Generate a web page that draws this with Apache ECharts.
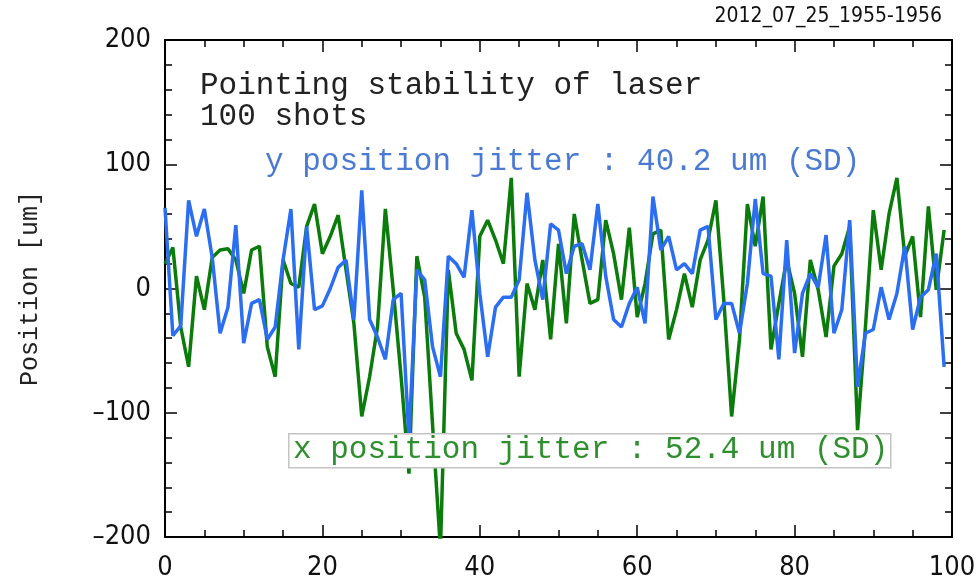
<!DOCTYPE html>
<html><head><meta charset="utf-8">
<script src="https://cdn.jsdelivr.net/npm/echarts@6/dist/echarts.min.js"></script>
<style>html,body{margin:0;padding:0;background:#fff}#c{width:979px;height:585px}</style>
</head><body><div id="c"></div>
<script>
// Shot-by-shot positions (um), shots 0..99
const xJitter = [20,33,-31,-63,10,-17,25,31,32,23,-4,31,34,-47,-71,23,4,1,50,68,
  28,42,59,15,-28,-103,-71,-31,64,-1,-71,-149,26,-7,-110,-210,15,-36,-49,-74,
  42,55,39,20,89,-71,4,-17,23,-41,36,-28,60,23,-12,-9,55,28,-9,49,
  -23,4,44,47,-41,-17,12,-15,23,39,71,-9,-103,-41,68,34,74,-49,-12,23,
  -4,-55,23,-1,-39,18,28,50,-114,-31,63,15,60,89,26,42,-23,66,-1,47];
const yJitter = [65,-38,-30,71,42,64,25,-36,-15,51,-44,-12,-9,-41,-31,23,64,-49,50,-17,
  -14,0,17,23,-25,79,-25,-39,-57,-9,-4,-120,15,7,-47,-71,26,20,9,63,
  -4,-55,-15,-7,-7,7,77,23,-9,52,47,12,34,36,15,68,10,-25,-31,-12,
  1,-28,74,31,42,15,20,12,47,50,-25,-12,-12,-36,4,72,12,10,-57,39,
  -52,-4,12,1,43,-36,-17,55,-79,-36,-33,1,-25,-4,34,-33,-7,-1,28,-63];
const xTickValues = [0,20,40,60,80,100];
const yTickValues = [-200,-100,0,100,200];
const titleLines = ['Pointing stability of laser','100 shots'];
const yLabel = 'y position jitter : 40.2 um (SD)';
const xLabel = 'x position jitter : 52.4 um (SD)';
const stamp = '2012_07_25_1955-1956';
const yAxisName = 'Position [um]';

const GREEN = '#0b7c0b', BLUE = '#2b6ef2';
const numFont = "'DejaVu Sans Condensed','Liberation Sans Narrow',sans-serif";
const mono = "'Liberation Mono','DejaVu Sans Mono',monospace";

const chart = echarts.init(document.getElementById('c'), null, {renderer:'canvas'});
function axLine(){ return {show:true, onZero:false, lineStyle:{color:'#000', width:2}}; }
function xAx(pos, show){
  return {type:'value', position:pos, min:0, max:100, interval:20,
    axisLine:axLine(), axisTick:{show:true, inside:true, length:12, lineStyle:{color:'#000',width:1.5}},
    minorTick:{show:true, splitNumber:4, length:7, lineStyle:{color:'#000',width:1.5}},
    splitLine:{show:false}, minorSplitLine:{show:false},
    axisLabel:{show:show, margin:17, color:'#111', fontSize:27, fontFamily:numFont,
      formatter:v=>xTickValues.includes(v)?String(v):''}};
}
function yAx(pos, show){
  const a = {type:'value', position:pos, min:-200, max:200, interval:100,
    axisLine:axLine(), axisTick:{show:true, inside:true, length:12, lineStyle:{color:'#000',width:1.5}},
    minorTick:{show:true, splitNumber:5, length:7, lineStyle:{color:'#000',width:1.5}},
    splitLine:{show:false}, minorSplitLine:{show:false},
    axisLabel:{show:show, margin:14, color:'#111', fontSize:27, fontFamily:numFont,
      formatter:v=>yTickValues.includes(v)?(v<0?'\u2013'+Math.abs(v):String(v)):''}};
  if (show) {
    a.name = yAxisName; a.nameLocation = 'middle'; a.nameRotate = 90; a.nameGap = 122;
    a.nameTextStyle = {fontFamily:mono, fontSize:25, color:'#222'};
  }
  return a;
}
chart.setOption({
  animation:false,
  backgroundColor:'#fff',
  grid:{left:165, right:27, top:40, bottom:48, containLabel:false},
  xAxis:[xAx('bottom', true), xAx('top', false)],
  yAxis:[yAx('left', true), yAx('right', false)],
  series:[
    {type:'line', xAxisIndex:0, yAxisIndex:0, data:xJitter.map((v,i)=>[i,v]), showSymbol:false,
      clip:true, lineStyle:{color:GREEN, width:3.5}, itemStyle:{color:GREEN}},
    {type:'line', xAxisIndex:0, yAxisIndex:0, data:yJitter.map((v,i)=>[i,v]), showSymbol:false,
      clip:true, lineStyle:{color:BLUE, width:3.5}, itemStyle:{color:BLUE}}
  ],
  graphic:[
    {type:'text', left:200, top:70, z:10, style:{text:titleLines.join('\n'), font:"31px "+mono, fill:'#222', lineHeight:31}},
    {type:'text', left:265, top:146, z:10, style:{text:yLabel, font:"31px "+mono, fill:'#4a7ad4'}},
    {type:'rect', left:288, top:433, z:10, shape:{width:602, height:34}, style:{fill:'#fff', stroke:'#c4c4c4', lineWidth:1.5}},
    {type:'text', left:293, top:434, z:11, style:{text:xLabel, font:"31px "+mono, fill:'#2f8f2f'}},
    {type:'text', right:37, top:6, z:10, style:{text:stamp, font:"21px "+numFont, fill:'#111'}}
  ]
});
</script></body></html>
